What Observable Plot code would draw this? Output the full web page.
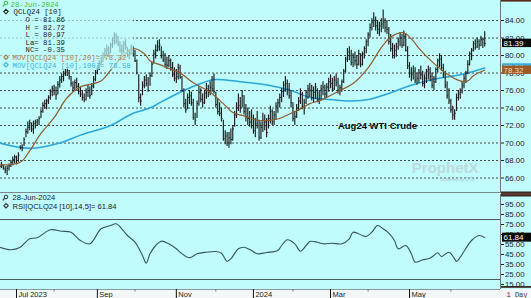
<!DOCTYPE html>
<html><head><meta charset="utf-8">
<script src="https://cdn.jsdelivr.net/npm/d3@7"></script>
<script src="https://cdn.jsdelivr.net/npm/@observablehq/plot@0.6"></script>
<style>
html,body{margin:0;padding:0;background:#c0fcfc;}
#chart{position:relative;width:531px;height:298px;overflow:hidden;background:#c0fcfc;}
#chart svg{position:absolute;left:0;display:block;}
</style></head><body><div id="chart"></div>
<script>
// ---------- data ----------
const priceTicks = [66,68,70,72,74,76,78,80,82,84];
const rsiTicks = [15,25,35,45,55,65,75,85,95];
const rsiLevels = [80,20];
const monthMajorIdx = [9,52,94,135,176,218];
const monthMajorLabels = ["Jul 2023","Sep","Nov","2024","Mar","May"];
const monthMinorIdx = [29,72,115,156,196,240];

const highs = [
67.6,67.8,67.5,67.3,67.4,67.6,68.0,68.4,68.6,68.5,
68.9,69.7,69.8,70.6,71.6,72.4,72.6,72.3,72.5,72.6,
72.7,73.0,73.8,74.6,74.9,75.0,75.4,76.1,76.5,76.6,
76.4,77.0,77.6,77.9,78.2,78.4,78.6,78.3,77.6,77.0,
77.2,77.4,76.8,76.4,76.0,75.6,76.2,76.6,76.4,76.8,
77.6,78.3,78.8,79.4,79.8,80.3,80.8,81.2,81.0,81.4,
82.0,82.6,82.5,82.2,81.6,81.2,81.6,81.8,80.9,80.7,
81.2,81.0,80.6,79.5,77.8,75.6,77.0,77.6,77.8,77.5,
78.0,79.2,80.6,81.2,81.7,81.8,81.0,80.5,80.2,79.8,
80.0,79.6,79.2,78.6,78.4,79.0,78.9,77.6,76.2,75.0,
75.6,76.0,75.8,75.0,73.4,74.8,76.4,76.2,75.6,76.0,
76.8,76.6,77.0,77.6,77.9,75.8,75.0,74.6,74.0,72.6,
71.4,71.2,71.2,71.6,72.0,73.6,74.6,75.6,75.2,76.0,
75.4,74.4,74.0,73.6,73.8,73.2,72.8,73.6,72.6,72.4,
73.4,73.2,72.8,73.2,74.2,73.8,73.6,74.6,75.0,75.6,
76.2,77.0,77.6,77.2,76.8,76.0,74.6,73.6,74.4,75.2,
76.2,75.8,75.0,76.0,76.6,76.8,76.6,76.4,76.8,76.2,
76.0,76.6,77.0,76.6,76.8,77.4,77.8,77.4,77.6,77.9,
77.4,76.6,77.2,78.4,79.8,80.8,81.0,80.6,80.2,80.4,
80.0,80.6,80.2,80.4,81.0,81.8,82.6,83.6,84.2,84.9,
84.4,84.0,83.8,84.2,85.2,84.2,84.0,83.2,82.4,81.4,
81.2,81.4,82.0,82.6,82.4,82.8,82.4,81.0,79.2,78.6,
78.8,78.6,78.0,78.4,78.8,78.2,77.8,78.4,78.8,78.6,
78.0,77.6,78.6,79.6,80.2,80.0,79.0,78.2,77.0,76.2,
75.0,74.2,73.8,75.6,76.0,76.2,77.0,77.8,78.2,79.4,
80.4,80.8,81.6,81.8,82.0,81.8,82.2,82.0,82.72];
const lows = [
67.0,67.1,66.9,66.5,66.3,66.8,67.2,67.4,67.6,67.5,
67.8,69.2,69.0,69.6,70.6,71.0,71.4,71.2,71.0,71.6,
71.9,72.0,72.8,73.4,73.9,73.8,74.4,74.9,75.3,75.4,
74.9,75.5,76.3,76.8,77.0,77.6,77.6,77.2,76.4,75.8,
76.0,76.2,75.5,75.2,74.8,74.6,74.8,75.2,75.0,75.4,
76.2,77.0,77.8,78.3,78.8,79.2,79.6,80.0,79.8,80.2,
80.8,81.2,81.3,81.0,80.3,80.0,80.2,80.6,79.8,79.5,
80.0,79.8,79.2,77.8,74.6,74.2,75.4,76.2,76.4,75.8,
76.5,77.5,79.0,79.6,80.4,80.5,79.6,79.2,78.6,78.4,
78.6,78.2,77.5,77.0,76.8,77.2,77.3,75.8,74.0,73.4,
73.8,74.4,74.2,72.6,72.0,72.8,74.2,74.6,74.0,74.4,
75.0,75.2,75.4,75.8,75.6,74.0,73.2,73.0,72.4,70.2,
69.8,69.6,69.4,69.8,70.2,71.8,72.8,73.6,73.4,74.0,
73.2,72.4,72.0,71.8,71.6,71.0,70.6,71.6,70.2,70.4,
71.2,71.4,70.6,71.6,72.2,72.0,72.0,72.6,73.4,74.0,
74.6,75.2,75.8,75.4,75.0,74.0,72.4,72.0,72.8,73.6,
74.4,73.8,73.2,74.4,75.0,75.2,74.8,74.6,75.0,74.6,
74.4,74.8,75.4,75.0,75.2,75.8,76.2,75.8,76.0,76.4,
75.6,75.4,75.8,76.8,78.0,79.2,79.4,78.8,78.6,78.8,
78.4,78.8,78.6,78.8,79.6,80.2,81.0,82.0,82.8,83.2,
82.8,82.4,82.2,82.6,83.0,82.6,82.4,81.2,80.4,79.6,
79.6,79.8,80.6,81.0,80.8,81.0,80.4,78.4,77.4,77.0,
77.2,76.8,76.6,76.8,77.2,76.4,76.2,76.8,77.2,77.0,
76.2,76.0,76.8,78.0,78.6,78.2,77.4,76.2,75.0,74.4,
73.4,72.6,72.6,73.6,74.8,75.0,75.6,76.2,76.8,77.8,
78.8,79.4,80.4,80.6,80.8,80.6,81.0,80.8,80.97];
const closes = [
67.3,67.4,67.1,66.9,67.1,67.4,67.8,68.1,68.4,68.0,
68.6,69.5,69.4,70.4,71.3,71.8,72.3,71.6,72.2,72.4,
72.5,72.8,73.6,74.3,74.5,74.8,75.2,75.9,76.2,76.0,
75.5,76.7,77.2,77.6,77.9,78.1,78.3,77.6,76.8,76.3,
76.9,76.5,75.9,75.6,75.2,75.0,75.8,76.0,75.4,76.5,
77.3,78.1,78.6,79.1,79.3,80.0,80.5,80.7,80.3,81.2,
81.7,82.2,81.6,81.4,80.6,80.6,81.3,81.0,80.1,80.3,
80.8,80.2,79.4,78.0,75.2,74.8,76.6,77.2,76.8,76.0,
77.7,79.0,80.2,80.6,81.0,81.2,80.0,79.5,79.0,78.9,
79.4,78.6,77.8,77.4,77.6,78.6,77.5,76.0,74.5,73.8,
75.2,75.4,74.6,72.9,72.6,74.5,75.8,75.0,74.6,75.7,
76.2,75.8,76.4,76.2,75.9,74.4,73.6,73.4,72.8,70.5,
70.8,70.0,70.6,70.4,71.6,73.2,74.0,74.3,74.0,75.4,
73.6,73.0,72.8,72.4,72.0,71.4,72.2,72.0,70.6,71.8,
72.6,72.4,71.2,72.8,73.6,72.4,73.2,74.2,74.6,75.2,
75.9,76.6,76.8,76.2,75.4,74.6,72.8,73.0,74.0,74.8,
75.6,74.2,74.6,75.8,76.2,76.0,75.2,75.8,76.4,75.0,
75.4,76.2,76.4,75.6,76.4,77.0,76.8,76.2,77.2,76.9,
76.0,76.3,77.0,78.2,79.6,80.4,80.0,79.2,79.8,79.4,
79.0,80.2,79.0,80.2,80.8,81.6,82.4,83.2,83.8,84.0,
83.4,83.0,83.4,83.6,83.8,83.2,83.0,81.6,80.8,80.0,
80.6,81.0,81.6,82.0,81.2,82.2,80.6,78.8,78.0,77.8,
78.2,77.2,77.4,78.0,77.8,76.8,77.4,78.2,78.4,77.6,
76.6,77.0,78.4,79.4,79.6,78.6,77.8,76.6,75.4,74.8,
73.8,73.2,73.4,75.2,75.6,75.8,76.6,77.4,78.0,79.0,
80.2,80.6,81.4,81.0,81.6,81.2,81.8,81.86,81.39];

const ma20Idx = [0,11,16,22,29,36,43,48,54,59,65,71,77,80,86,89,96,103,112,119,124,130,137,144,149,155,160,165,171,181,188,196,203,208,215,219,224,231,238,245,249,252,258];
const ma20Val = [67.5,67.8,69.1,71.1,72.9,75.2,76.4,76.7,77.1,78.3,79.8,80.8,80.2,79.4,78.9,78.6,78.0,76.9,75.8,74.5,73.5,73.1,72.6,72.6,72.8,73.4,73.9,74.5,74.9,76.0,76.8,78.6,80.9,82.1,82.6,81.9,80.6,79.1,77.9,77.1,77.1,77.7,78.32];
const ma100Idx = [0,16,32,43,59,71,80,86,98,107,114,128,143,155,165,174,187,197,206,219,231,245,258];
const ma100Val = [70.0,69.4,70.0,70.9,72.0,73.4,74.0,74.7,76.0,76.8,77.25,77.0,76.6,76.0,75.2,75.0,74.8,75.0,75.6,76.6,77.3,77.8,78.58];
const rsiIdx = [0,6,11,16,20,27,33,38,43,48,54,59,62,68,72,76,78,80,83,86,90,94,96,101,105,110,115,118,121,123,127,130,134,137,142,148,150,153,157,160,163,165,169,172,177,182,186,188,193,195,198,201,204,207,210,212,216,219,221,225,228,231,233,235,239,242,243,245,251,255,258];
const rsiVal = [52.3,49.7,52.3,60.7,61.7,69.7,68.3,67.3,59,55.7,70.7,74,75.7,64,57.3,44,36.3,45.7,54,58.3,55.7,50.7,47.3,41.7,45.7,47.3,48,46.3,38.3,40.7,50.7,52.3,49,45.7,47,49,54,59.7,55.7,48.3,54,58,57.3,55.7,56.3,55.7,60.7,67.3,64,63,67.3,74,70.7,66.3,59,50.7,54,45.7,37.3,39.7,40.7,44,46.7,43,47.3,40.7,38,42.3,59,64,61.84];

const legendDate = "28-Jun-2024";
const legendSymbol = "QCLQ24 [10]";
const legendStats = ["O = 81.86","H = 82.72","L = 80.97","La= 81.39","NC= -0.35"];
const legendMa20 = "MOV[QCLQ24 [10],20]= 78.32";
const legendMa100 = "MOV[QCLQ24 [10],100]= 78.58";
const lastClose = 81.39, lastMa20 = 78.32, lastMa100 = 78.58, lastRsi = 61.84;
const rsiLabel = "RSI[QCLQ24 [10],14,5]= 61.84";
const chartTitle = "Aug24 WTI Crude";
const periodLabel = "1 Day";
const watermark = "ProphetX";
const watermarkSub = "powered by DTN";

// ---------- build ----------
const BG = "#c0fcfc";
const fontMono = "'Liberation Mono','DejaVu Sans Mono',monospace";
const fontSans = "'Liberation Sans',Arial,sans-serif";
const fmt = d3.format(".2f");
const xDomain = [0.48, 266.4];

const bars = highs.map((h, i) => ({i, h, l: lows[i], c: closes[i]}));
const ma20 = ma20Idx.map((i, k) => ({i, v: ma20Val[k]}));
const ma100 = ma100Idx.map((i, k) => ({i, v: ma100Val[k]}));
const rsi = rsiIdx.map((i, k) => ({i, v: rsiVal[k]}));

function badge(value, fill, color, top, h) {
  return (index, scales, values, dims) => {
    const y = scales.y(value);
    const x0 = dims.width - dims.marginRight + 2;
    const g = d3.create("svg:g");
    g.append("rect").attr("x", x0).attr("y", y - top).attr("width", 29).attr("height", h).attr("fill", fill);
    g.append("text").attr("x", x0 + 1.5).attr("y", y + 3).attr("fill", color).attr("text-anchor", "start")
      .attr("font-size", 8).attr("font-family", fontSans).text(fmt(value));
    return g.node();
  };
}
function magnifier(g, x, y, color) {
  g.append("circle").attr("cx", x).attr("cy", y).attr("r", 1.8).attr("fill", "none").attr("stroke", color).attr("stroke-width", 1);
  g.append("line").attr("x1", x - 1.3).attr("y1", y + 1.3).attr("x2", x - 3.3).attr("y2", y + 3.3).attr("stroke", color).attr("stroke-width", 1.2);
}
function diamond(g, x, y, color) {
  g.append("path").attr("d", `M${x},${y-2.2}L${x+2.2},${y}L${x},${y+2.2}L${x-2.2},${y}Z`)
    .attr("fill", "none").attr("stroke", color).attr("stroke-width", 1.1);
}

const legendRows = [
  {t: legendDate, dx: 10, color: "#3cbf3c"},
  {t: legendSymbol, dx: 13, color: "#1a1a1a"},
  ...legendStats.map(t => ({t, dx: 25, color: "#1a1a1a"})),
  {t: legendMa20, dx: 12, color: "#b07a3e"},
  {t: legendMa100, dx: 12, color: "#3ab2e2"}
];

const price = Plot.plot({
  width: 531, height: 193,
  marginLeft: 0, marginRight: 31, marginTop: 0, marginBottom: 0,
  x: {domain: xDomain, axis: null, label: null},
  y: {domain: [64.23, 86.29], label: null},
  style: {background: "transparent", fontFamily: fontSans, overflow: "visible"},
  marks: [
    Plot.ruleY(priceTicks, {stroke: "#333", strokeDasharray: "2,2", strokeWidth: 0.9}),
    Plot.line(ma100, {x: "i", y: "v", stroke: "#2ba6dc", strokeWidth: 1.5, curve: "catmull-rom"}),
    Plot.ruleX(bars, {x: "i", y1: "l", y2: "h", stroke: "#1c1c1c", strokeWidth: 1.15}),
    Plot.link(bars, {x1: "i", x2: d => d.i + 0.6, y1: "c", y2: "c", stroke: "#1c1c1c", strokeWidth: 1}),
    Plot.line(ma20, {x: "i", y: "v", stroke: "#8e5b2b", strokeWidth: 1.2, curve: "catmull-rom"}),
    (index, scales, values, dims) => {
      const g = d3.create("svg:g");
      g.append("rect").attr("x", 0).attr("y", 0).attr("width", 133).attr("height", 69)
        .attr("fill", BG).attr("fill-opacity", 0.68);
      const xr = dims.width - dims.marginRight;
      g.append("line").attr("x1", xr + 0.5).attr("x2", xr + 0.5).attr("y1", 0).attr("y2", dims.height).attr("stroke", "#6b7b7b");
      g.append("line").attr("x1", 0).attr("x2", xr).attr("y1", dims.height - 0.5).attr("y2", dims.height - 0.5).attr("stroke", "#7a8a8a");
      g.append("rect").attr("x", xr + 1).attr("y", 0).attr("width", dims.marginRight).attr("height", 1.6).attr("fill", "#5a2a1a");
      magnifier(g, 6, 3, "#3cbf3c");
      diamond(g, 6, 11.6, "#1a1a1a");
      diamond(g, 6, 57.2, "#b07a3e");
      diamond(g, 6, 64.8, "#3ab2e2");
      return g.node();
    },
    Plot.text([watermark], {text: d => d, frameAnchor: "bottom-right", dx: -22, dy: -21, textAnchor: "end",
      fontSize: 15, fontWeight: "bold", fill: "#bdd9dd", fontFamily: fontSans}),
    Plot.text([watermarkSub], {text: d => d, frameAnchor: "bottom-right", dx: -26, dy: -13, textAnchor: "end",
      fontSize: 4.5, fill: "#a9c6ca", fontFamily: fontSans}),
    Plot.text([chartTitle], {text: d => d, frameAnchor: "top-left", dx: 377, dy: 125.5, textAnchor: "middle",
      lineAnchor: "middle", fontSize: 9.5, fontWeight: "bold", fill: "#111", fontFamily: fontSans}),
    ...legendRows.map((r, k) => Plot.text([r.t], {text: d => d, frameAnchor: "top-left", dx: r.dx, dy: 4 + 7.6 * k,
      textAnchor: "start", lineAnchor: "middle", fill: r.color, fontSize: 7.3, fontFamily: fontMono})),
    Plot.axisY({ticks: priceTicks, anchor: "right", tickSize: 3, tickPadding: 1.5, tickFormat: fmt,
      fontSize: 7.8, color: "#222", label: null}),
    badge(lastMa100, "#35aee0", "#e8f8ff", 4.2, 8.4),
    badge(lastMa20, "#9c5a26", "#f3dcb0", 4.2, 8.4),
    badge(lastClose, "#0a0a0a", "#ffffff", 4.2, 8.4)
  ]
});

const rsiPlot = Plot.plot({
  width: 531, height: 107,
  marginLeft: 0, marginRight: 31, marginTop: 3, marginBottom: 9,
  x: {domain: xDomain, label: null},
  y: {domain: [10, 105], label: null},
  style: {background: "transparent", fontFamily: fontSans, overflow: "visible"},
  marks: [
    (index, scales, values, dims) => {
      const g = d3.create("svg:g");
      const xr = dims.width - dims.marginRight;
      const yb = dims.height - dims.marginBottom;
      g.append("rect").attr("x", 0).attr("y", yb).attr("width", dims.width).attr("height", dims.marginBottom).attr("fill", "#f3f7f7");
      g.append("line").attr("x1", 0).attr("x2", xr).attr("y1", yb + 0.5).attr("y2", yb + 0.5).attr("stroke", "#8a9a9a");
      g.append("line").attr("x1", xr + 0.5).attr("x2", xr + 0.5).attr("y1", dims.marginTop).attr("y2", yb).attr("stroke", "#6b7b7b");
      g.append("rect").attr("x", xr + 1).attr("y", 0.5).attr("width", dims.marginRight).attr("height", 5).attr("fill", "#3d2a22");
      g.append("line").attr("x1", xr + 1).attr("x2", dims.width).attr("y1", 3).attr("y2", 3).attr("stroke", "#8a5a4a").attr("stroke-width", 0.8);
      g.append("rect").attr("x", xr + 1).attr("y", yb - 3).attr("width", dims.marginRight).attr("height", 1.8).attr("fill", "#3d2a22");
      magnifier(g, 6, dims.marginTop + 3, "#333");
      diamond(g, 6, dims.marginTop + 11.7, "#333");
      return g.node();
    },
    Plot.ruleY(rsiLevels, {stroke: "#4d5d5d", strokeWidth: 1}),
    Plot.line(rsi, {x: "i", y: "v", stroke: "#35575a", strokeWidth: 1.1, curve: "catmull-rom"}),
    Plot.text([legendDate], {text: d => d, frameAnchor: "top-left", dx: 12, dy: 3.5, textAnchor: "start",
      lineAnchor: "middle", fontSize: 7.6, fill: "#1a1a1a", fontFamily: fontSans}),
    Plot.text([rsiLabel], {text: d => d, frameAnchor: "top-left", dx: 12, dy: 11.7, textAnchor: "start",
      lineAnchor: "middle", fontSize: 7.6, fill: "#1a1a1a", fontFamily: fontSans}),
    Plot.axisY({ticks: rsiTicks, anchor: "right", tickSize: 3, tickPadding: 1.5, tickFormat: fmt,
      fontSize: 7.8, color: "#222", label: null}),
    Plot.axisX({ticks: monthMinorIdx, anchor: "bottom", tickSize: 2.5, tickFormat: () => "", color: "#777", label: null}),
    Plot.axisX({ticks: monthMajorIdx, anchor: "bottom", tickSize: 9, tickFormat: () => "", color: "#111", label: null}),
    Plot.text(monthMajorIdx, {x: d => d, text: (d, k) => monthMajorLabels[k], frameAnchor: "bottom", dx: 2, dy: 5,
      textAnchor: "start", lineAnchor: "middle", fontSize: 7.5, fill: "#222", fontFamily: fontSans}),
    Plot.text([periodLabel], {text: d => d, frameAnchor: "bottom-right", dx: 6, dy: 5, textAnchor: "start",
      lineAnchor: "middle", fontSize: 7, fill: "#333", fontFamily: fontMono}),
    badge(lastRsi, "#0a0a0a", "#ffffff", 4.5, 9)
  ]
});

const root = document.getElementById("chart");
price.style.top = "0px";
rsiPlot.style.top = "191px";
root.appendChild(price);
root.appendChild(rsiPlot);
</script></body></html>
